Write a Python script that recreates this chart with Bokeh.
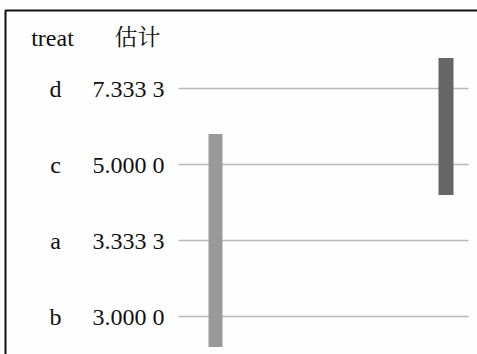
from bokeh.plotting import figure
from bokeh.models import Range1d, ColumnDataSource
from bokeh.core.properties import value
from bokeh.embed import file_html
from bokeh.resources import INLINE

# ---- data ----
treat = ["d", "c", "a", "b"]
estimate = [7.3333, 5.0, 3.3333, 3.0]
estimate_labels = ["7.333 3", "5.000 0", "3.333 3", "3.000 0"]
group_a = ["c", "a", "b"]   # light bar
group_b = ["d", "c"]        # dark bar
header = ["treat", "估计"]

FONT = value("Liberation Serif, 'Noto Serif CJK SC', 'Noto Sans CJK SC', serif")

rows = list(range(len(treat)))
row_of = {t: i for i, t in enumerate(treat)}

p = figure(width=477, height=354, output_backend="svg", toolbar_location=None,
           x_range=Range1d(0, 477), y_range=Range1d(3.5, -1.158),
           min_border=0, outline_line_color=None)
p.axis.visible = False
p.grid.visible = False
p.background_fill_color = "#fefefe"
p.border_fill_color = "#fefefe"

# frame (top and left edges visible, the rest runs off the page)
p.quad(left=[5], right=[700], top=[-1.026], bottom=[10],
       fill_color=None, line_color="#111111", line_width=2)

# header
p.text(x=[52], y=[-0.67], text=[header[0]], text_font=FONT,
       text_font_size="24px", text_align="center", text_baseline="middle",
       text_color="#111111")
p.text(x=[137], y=[-0.67], text=[header[1]], text_font=FONT,
       text_font_size="23px", text_align="center", text_baseline="middle",
       text_color="#111111")

# row labels and estimates
src = ColumnDataSource(dict(row=rows, treat=treat, est=estimate_labels))
p.text(x=55, y="row", text="treat", source=src, text_font=FONT,
       text_font_size="24px", text_align="center", text_baseline="middle",
       text_color="#111111")
p.text(x=128, y="row", text="est", source=src, text_font=FONT,
       text_font_size="24px", text_align="center", text_baseline="middle",
       text_color="#111111")

# horizontal lines
p.segment(x0=178, x1=468, y0="row", y1="row", source=src,
          line_color="#b8b8b8", line_width=1.6)

# grouping bars
def extent(group):
    r = [row_of[t] for t in group]
    return min(r) - 0.4, max(r) + 0.4

a_top, a_bot = extent(group_a)
b_top, b_bot = extent(group_b)
p.quad(left=[208], right=[222], top=[a_top], bottom=[a_bot],
       fill_color="#999999", line_color=None)
p.quad(left=[438], right=[453], top=[b_top], bottom=[b_bot],
       fill_color="#666666", line_color=None)

open("out.html", "w").write(file_html(p, INLINE))
